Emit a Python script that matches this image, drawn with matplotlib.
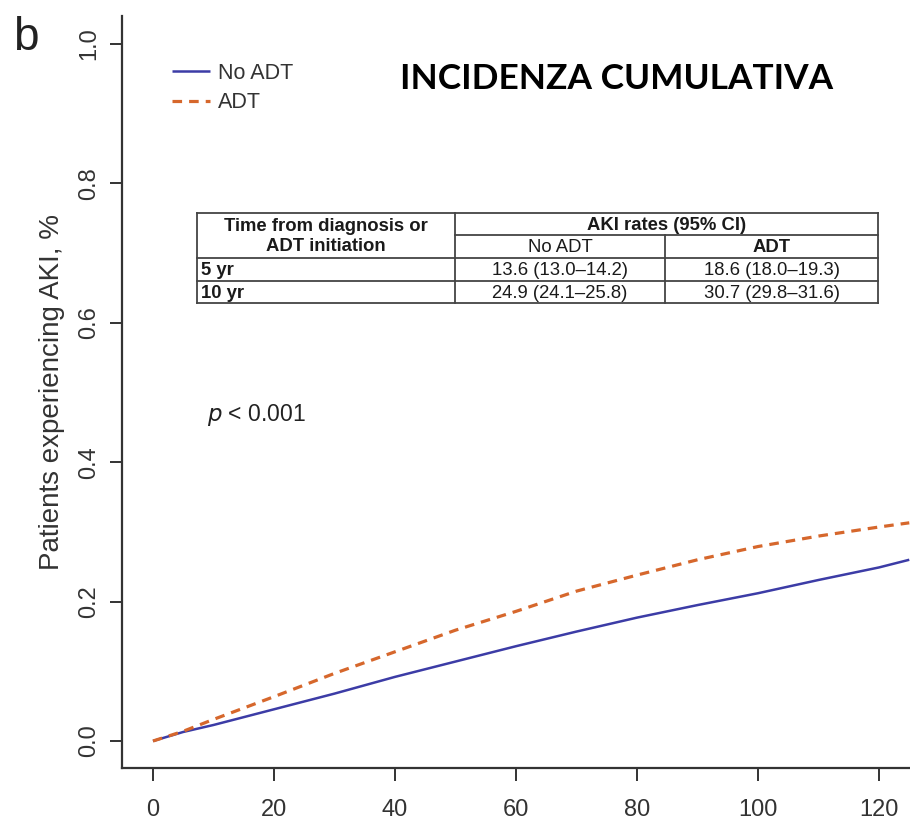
import matplotlib
matplotlib.use("Agg")
import matplotlib.pyplot as plt

plt.rcParams['font.family'] = ['Liberation Sans', 'DejaVu Sans']

# Cumulative incidence of AKI by months since diagnosis / ADT initiation
months = [0, 5, 10, 20, 30, 40, 50, 60, 70, 80, 90, 100, 110, 120, 125]
no_adt = [0.0, 0.013, 0.023, 0.0455, 0.068, 0.092, 0.114, 0.136, 0.157,
          0.177, 0.195, 0.212, 0.231, 0.249, 0.260]
adt = [0.0, 0.014, 0.031, 0.0636, 0.097, 0.128, 0.159, 0.186, 0.215,
       0.238, 0.260, 0.279, 0.294, 0.307, 0.313]

series_labels = ["No ADT", "ADT"]
x_ticks = [0, 20, 40, 60, 80, 100, 120]
y_ticks = [0.0, 0.2, 0.4, 0.6, 0.8, 1.0]

# Summary table
table_header = ["Time from diagnosis or\nADT initiation", "AKI rates (95% CI)"]
table_groups = ["No ADT", "ADT"]
table_rows = ["5 yr", "10 yr"]
rates_no_adt = ["13.6 (13.0\u201314.2)", "24.9 (24.1\u201325.8)"]
rates_adt = ["18.6 (18.0\u201319.3)", "30.7 (29.8\u201331.6)"]

W, H = 910, 826
fig = plt.figure(figsize=(W / 100, H / 100), dpi=100)

# main axes, placed in pixel units
L, R, B, T = 122, 910, 768, 16
ax = fig.add_axes([L / W, 1 - B / H, (R - L) / W, (B - T) / H])
ax.set_xlim(-5.12, 125.12)
ax.set_ylim(-0.0387, 1.040)

blue = "#3c3ca6"
orange = "#d6672c"
ax.plot(months, no_adt, color=blue, lw=1.8, label=series_labels[0], solid_capstyle="butt")
ax.plot(months, adt, color=orange, lw=2.3, ls=(0, (3.0, 2.2)), label=series_labels[1])

for s in ["top", "right"]:
    ax.spines[s].set_visible(False)
for s in ["left", "bottom"]:
    ax.spines[s].set_color("#333333")
    ax.spines[s].set_linewidth(1.6)

ax.set_xticks(x_ticks)
ax.set_xticklabels([str(v) for v in x_ticks])
ax.set_yticks(y_ticks)
ax.set_yticklabels([f"{v:.1f}" for v in y_ticks], rotation=90, va="center")
ax.tick_params(axis="both", direction="out", length=9, width=1.4, color="#333333",
               labelsize=17, labelcolor="#333333")
ax.tick_params(axis="x", pad=13)
ax.tick_params(axis="y", pad=7)
ax.set_ylabel("Patients experiencing AKI, %", fontsize=20, color="#333333", labelpad=9)

leg = ax.legend(loc="upper left", bbox_to_anchor=(172 / W, 1 - 63 / H),
                bbox_transform=fig.transFigure, frameon=False, fontsize=15.5,
                handlelength=1.75, handletextpad=0.4, labelspacing=0.38,
                borderpad=0, borderaxespad=0)
for t in leg.get_texts():
    t.set_color("#333333")

# overlay in pixel coordinates for annotations and the table
ov = fig.add_axes([0, 0, 1, 1])
ov.set_xlim(0, W)
ov.set_ylim(H, 0)
ov.axis("off")
ov.patch.set_alpha(0)

ov.text(13, 38, "b", fontsize=33, va="center", ha="left", color="#222222")
ov.text(617, 79, "INCIDENZA CUMULATIVA", fontsize=25.4, fontweight="bold",
        family=["Lato", "DejaVu Sans"], ha="center", va="center", color="black")
ov.text(207, 415, r"$p$ < 0.001", fontsize=16.5, ha="left", va="center", color="#222222")

# table grid
lc, lw = "#444444", 1.3
x0, x1, x2, x3 = 197, 455, 665, 878
y0, y1, y2, y3, y4 = 213, 235, 258, 281, 303
for y in [y0, y2, y3, y4]:
    ov.plot([x0, x3], [y, y], color=lc, lw=lw)
ov.plot([x1, x3], [y1, y1], color=lc, lw=lw)
for x in [x0, x1, x3]:
    ov.plot([x, x], [y0, y4], color=lc, lw=lw)
ov.plot([x2, x2], [y1, y4], color=lc, lw=lw)

tfs = 13.3
tc = "#1a1a1a"
ov.text((x0 + x1) / 2, (y0 + y2) / 2 + 1, table_header[0], fontsize=tfs, fontweight="bold",
        ha="center", va="center", color=tc, linespacing=1.3)
ov.text((x1 + x3) / 2, (y0 + y1) / 2 + 1, table_header[1], fontsize=tfs, fontweight="bold",
        ha="center", va="center", color=tc)
ov.text((x1 + x2) / 2, (y1 + y2) / 2 + 1, table_groups[0], fontsize=tfs,
        ha="center", va="center", color=tc)
ov.text((x2 + x3) / 2, (y1 + y2) / 2 + 1, table_groups[1], fontsize=tfs, fontweight="bold",
        ha="center", va="center", color=tc)
row_y = [(y2 + y3) / 2 + 1, (y3 + y4) / 2 + 1]
for i, yy in enumerate(row_y):
    ov.text(x0 + 4, yy, table_rows[i], fontsize=tfs, fontweight="bold",
            ha="left", va="center", color=tc)
    ov.text((x1 + x2) / 2, yy, rates_no_adt[i], fontsize=tfs, ha="center", va="center", color=tc)
    ov.text((x2 + x3) / 2, yy, rates_adt[i], fontsize=tfs, ha="center", va="center", color=tc)

fig.savefig("out.png", dpi=100)
